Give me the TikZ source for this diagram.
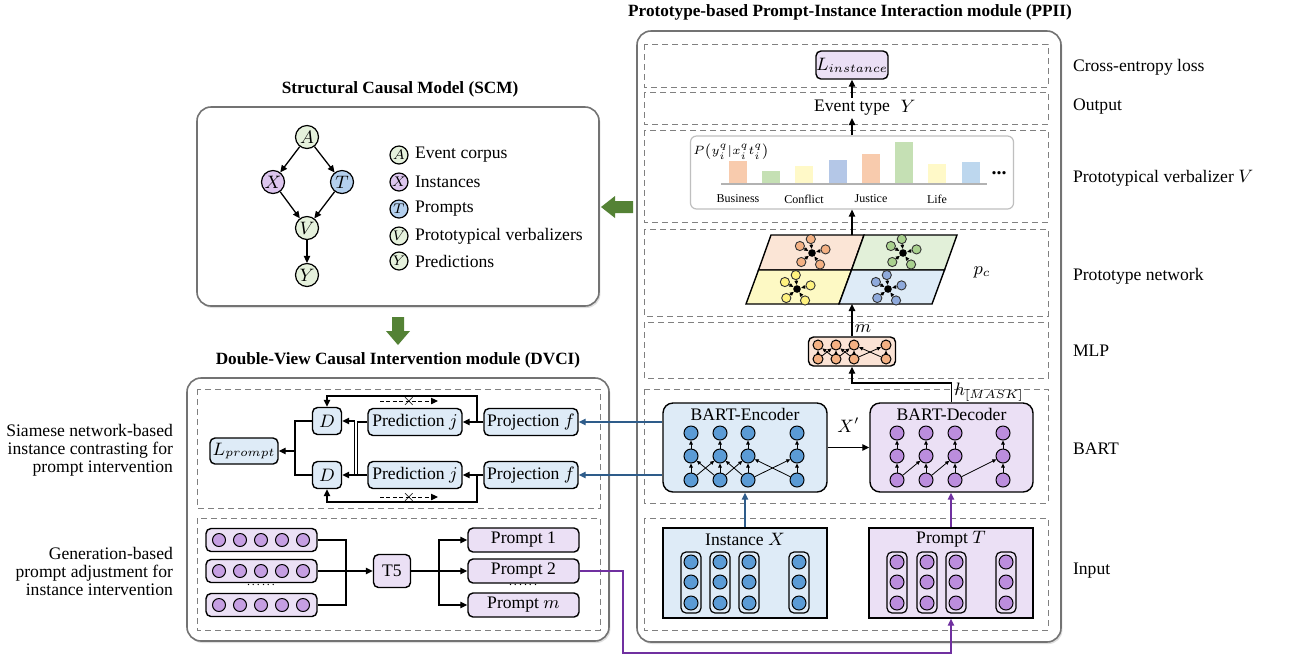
\documentclass[tikz,border=0pt]{standalone}
\usepackage{fontspec}
\setmainfont{Liberation Serif}
\usepackage{amsmath}
\usetikzlibrary{arrows.meta, shadows, calc}

\definecolor{lblue}{HTML}{DEEBF7}
\definecolor{lpurple}{HTML}{EBE0F5}
\definecolor{nblue}{HTML}{5B9BD5}
\definecolor{npurple}{HTML}{BB8DDD}
\definecolor{lorange}{HTML}{FBE3D5}
\definecolor{norange}{HTML}{F4B183}
\definecolor{qorange}{HTML}{FBE5D6}
\definecolor{qgreen}{HTML}{E2F0D9}
\definecolor{qyellow}{HTML}{FDF9C4}
\definecolor{sgreen}{HTML}{A9D18E}
\definecolor{syellow}{HTML}{FFF27F}
\definecolor{sblue}{HTML}{8FAADC}
\definecolor{dblue}{HTML}{2E5C8A}
\definecolor{dpurple}{HTML}{7030A0}
\definecolor{dgreen}{HTML}{548235}
\definecolor{xpurple}{HTML}{DCC5EE}
\definecolor{tblue}{HTML}{B4D0EE}
\definecolor{agreen}{HTML}{E5F1DC}
\definecolor{borange}{HTML}{F8CBAD}
\definecolor{bgreen}{HTML}{C5E0B4}
\definecolor{byellow}{HTML}{FFF9C8}
\definecolor{bblue}{HTML}{B4C7E7}
\definecolor{bsky}{HTML}{BDD7EE}

\begin{document}
\begin{tikzpicture}[x=0.5pt, y=-0.5pt, font=\fontsize{8.8}{9}\selectfont,
  titletext/.style={font=\fontsize{8.6}{9}\selectfont\bfseries},
  outerbox/.style={draw=gray!90!black, line width=0.8pt, rounded corners=7pt, fill=white,
    drop shadow={shadow xshift=0.7pt, shadow yshift=-1pt, opacity=0.25}},
  rowbox/.style={draw=gray, line width=0.5pt, dash pattern=on 3pt off 2pt},
  blk/.style={draw, line width=0.7pt, rounded corners=2.5pt, inner sep=0pt},
  arr/.style={line width=0.65pt, -{Triangle[length=3.5pt, width=3.2pt]}},
  tinyarr/.style={line width=0.4pt, -{Triangle[length=2pt, width=1.8pt]}},
  scmnode/.style={circle, draw, line width=0.6pt, minimum size=11.5pt, inner sep=0pt},
  legnode/.style={circle, draw, line width=0.6pt, minimum size=9pt, inner sep=0pt, font=\fontsize{7.5}{8}\selectfont},
  bnode/.style={circle, draw, line width=0.5pt, fill=nblue, minimum size=7pt, inner sep=0pt},
  pnode/.style={circle, draw, line width=0.5pt, fill=npurple, minimum size=7pt, inner sep=0pt},
  onode/.style={circle, draw, line width=0.5pt, fill=norange, minimum size=5pt, inner sep=0pt},
  colbox/.style={draw, line width=0.6pt, rounded corners=2.5pt, minimum width=10pt, minimum height=30.5pt, inner sep=0pt},
  hub/.style={circle, fill=black, minimum size=3.8pt, inner sep=0pt},
  sat/.style={circle, draw=black!80, line width=0.45pt, minimum size=4.6pt, inner sep=0pt},
  bline/.style={draw=dblue, line width=0.9pt},
  pline/.style={draw=dpurple, line width=0.9pt},
  sidelabel/.style={anchor=west},
  seqdots/.style={font=\fontsize{6}{6}\selectfont, inner sep=0pt}]

\fill[white] (0,0) rectangle (1290,661);
\useasboundingbox (0,0) rectangle (1290,661);

\node[titletext] (tppii) at (850,12) {Prototype-based Prompt-Instance Interaction module (PPII)};
\node[titletext] (tscm) at (400,89) {Structural Causal Model (SCM)};
\node[titletext] (tdvci) at (398,360) {Double-View Causal Intervention module (DVCI)};

\path[outerbox] (197,107) rectangle (599,306);
\path[outerbox] (187,378) rectangle (609,641);
\path[outerbox] (637,31) rectangle (1061,642);

\draw[rowbox] (644,44) rectangle (1048,87);
\draw[rowbox] (644,92) rectangle (1048,124);
\draw[rowbox] (644,130) rectangle (1048,222);
\draw[rowbox] (644,229) rectangle (1048,316);
\draw[rowbox] (644,322) rectangle (1048,378);
\draw[rowbox] (644,389) rectangle (1048,503);
\draw[rowbox] (644,518) rectangle (1048,630);
\draw[rowbox] (197,389) rectangle (600,508);
\draw[rowbox] (197,518) rectangle (600,630);

\fill[dgreen] (601,207) -- (615,196) -- (615,201) -- (633,201) -- (633,213) -- (615,213) -- (615,218) -- cycle;
\fill[dgreen] (392,317) -- (404,317) -- (404,331) -- (410,331) -- (398,345) -- (386,331) -- (392,331) -- cycle;

\node[scmnode, fill=agreen] (A) at (307,137) {$A$};
\node[scmnode, fill=xpurple] (X) at (273,182) {$X$};
\node[scmnode, fill=tblue] (T) at (342,182) {$T$};
\node[scmnode, fill=agreen] (V) at (307,228) {$V$};
\node[scmnode, fill=agreen] (Y) at (307,275) {$Y$};
\draw[arr] (A) -- (X);
\draw[arr] (A) -- (T);
\draw[arr] (X) -- (V);
\draw[arr] (T) -- (V);
\draw[arr] (V) -- (Y);
\foreach \n/\c/\txt/\y in {A/agreen/Event corpus/155, X/xpurple/Instances/182, T/tblue/Prompts/209, V/agreen/Prototypical verbalizers/236, Y/agreen/Predictions/261} {
  \node[legnode, fill=\c] (l\n) at (399,\y) {$\n$};
  \node[anchor=west] (lt\n) at (408,\y) {\txt};
}

\node[anchor=east, align=right] (lsia) at (180,450) {Siamese network-based\\instance contrasting for\\prompt intervention};
\node[anchor=east, align=right] (lgen) at (180,571) {Generation-based\\prompt adjustment for\\instance intervention};

\node[blk, fill=lblue, minimum width=34pt, minimum height=13pt] (lp) at (244,451) {$L_{prompt}$};
\node[blk, fill=lblue, minimum width=14.5pt, minimum height=13.5pt] (dt) at (327,421) {$D$};
\node[blk, fill=lblue, minimum width=14.5pt, minimum height=13.5pt] (db) at (327,475) {$D$};
\node[blk, fill=lblue, minimum width=47pt, minimum height=13.5pt] (predt) at (415,422) {Prediction $j$};
\node[blk, fill=lblue, minimum width=47pt, minimum height=13.5pt] (predb) at (415,475) {Prediction $j$};
\node[blk, fill=lblue, minimum width=47pt, minimum height=13.5pt] (projt) at (531,422) {Projection $f$};
\node[blk, fill=lblue, minimum width=47pt, minimum height=13.5pt] (projb) at (531,475) {Projection $f$};
\draw[arr] (projt.west) -- (predt.east);
\draw[arr] (projb.west) -- (predb.east);
\coordinate (jt) at (477,422);
\coordinate (jb) at (477,475);
\draw[arr] (jt) -- ++(0,-26) -| (dt.north);
\draw[arr] (jb) -- ++(0,27) -| (db.south);
\coordinate (xa1) at (380,401);
\coordinate (xb1) at (438,401);
\coordinate (xa2) at (380,497);
\coordinate (xb2) at (438,497);
\draw[arr, line width=0.5pt, dash pattern=on 2pt off 1.2pt] (xa1) -- node[inner sep=0pt, font=\fontsize{8}{8}\selectfont] {$\times$} (xb1);
\draw[arr, line width=0.5pt, dash pattern=on 2pt off 1.2pt] (xa2) -- node[inner sep=0pt, font=\fontsize{8}{8}\selectfont] {$\times$} (xb2);
\draw[arr] (predt.west) -- ++(-10,0) |- (db.east);
\draw[arr] (predb.west) -- ++(-13,0) |- (dt.east);
\coordinate (jl) at (295,451);
\draw[line width=0.65pt] (dt.west) -| (jl);
\draw[line width=0.65pt] (db.west) -| (jl);
\draw[arr] (jl) -- (lp.east);

\foreach \r/\y in {1/540,2/571,3/605} {
  \node[blk, fill=lpurple, minimum width=55.5pt, minimum height=11.5pt] (s\r) at (261.5,\y) {};
  \foreach \i/\x in {1/219,2/240,3/261,4/282,5/303}
    \node[circle, draw, line width=0.5pt, fill=npurple!85, minimum size=6.5pt, inner sep=0pt] (s\r\i) at (\x,\y) {};
}
\node[seqdots] (sdots) at (261,585) {.\,.\,.\,.\,.\,.};
\node[blk, fill=lpurple, minimum width=18.5pt, minimum height=16.5pt] (t5) at (392,571) {T5};
\node[blk, fill=lpurple, minimum width=55.5pt, minimum height=12pt] (p1) at (523.5,540) {Prompt 1};
\node[blk, fill=lpurple, minimum width=55.5pt, minimum height=12pt] (p2) at (523.5,571) {Prompt 2};
\node[blk, fill=lpurple, minimum width=55.5pt, minimum height=12pt] (pm) at (523.5,605) {Prompt $m$};
\node[seqdots] (pdots) at (523,585) {.\,.\,.\,.\,.\,.};
\coordinate (jm) at (346,571);
\coordinate (jp) at (439,571);
\draw[line width=0.65pt] (s1.east) -| (jm);
\draw[line width=0.65pt] (s3.east) -| (jm);
\draw[arr] (s2.east) -- (t5.west);
\draw[line width=0.65pt] (t5.east) -- (jp);
\draw[arr] (jp) |- (p1.west);
\draw[arr] (jp) -- (p2.west);
\draw[arr] (jp) |- (pm.west);

\node[blk, fill=lpurple, minimum width=34pt, minimum height=14pt] (linst) at (852,65) {$L_{instance}$};
\node[inner sep=1pt] (evt) at (852,108) {Event type};
\node (evY) at (908,106) {$Y$};
\draw[arr] (evt.north) -- (linst.south);

\node[draw=gray!50, line width=0.6pt, rounded corners=3pt, minimum width=161.5pt, minimum height=36.5pt, inner sep=0pt] (verb) at (852,172.5) {};
\draw[arr] (verb.north) -- (evt.south);
\node[anchor=west, inner sep=0pt, font=\fontsize{6.5}{7}\selectfont] (ptext) at (693,152) {$P\big(y_i^q|x_i^q t_i^q\big)$};
\foreach \x/\h/\c in {729/161/borange, 762/171/bgreen, 795/166/byellow, 829/160/bblue, 862/154/borange, 895/142/bgreen, 928/164/byellow, 962/162/bsky}
  \fill[\c] (\x,\h) rectangle ++(18,184-\h);
\draw[gray!60, line width=0.6pt] (721,184) -- (987,184);
\node[font=\bfseries] (vdots) at (999,173) {...};
\foreach \x/\txt in {738/Business, 804/Conflict, 871/Justice, 937/Life}
  \node[font=\fontsize{6}{6}\selectfont] (cat\txt) at (\x,199) {\txt};

\coordinate (q1) at (771,235);
\coordinate (q2) at (864,235);
\coordinate (q3) at (957,235);
\coordinate (q4) at (758.5,270);
\coordinate (q5) at (851.5,270);
\coordinate (q6) at (944.5,270);
\coordinate (q7) at (746,304);
\coordinate (q8) at (839,304);
\coordinate (q9) at (932,304);
\filldraw[fill=qorange, line width=0.7pt] (q1) -- (q2) -- (q5) -- (q4) -- cycle;
\filldraw[fill=qgreen, line width=0.7pt] (q2) -- (q3) -- (q6) -- (q5) -- cycle;
\filldraw[fill=qyellow, line width=0.7pt] (q4) -- (q5) -- (q8) -- (q7) -- cycle;
\filldraw[fill=lblue, line width=0.7pt] (q5) -- (q6) -- (q9) -- (q8) -- cycle;
\foreach \cx/\cy/\c/\k in {812/253/norange/1, 903/253/sgreen/2, 797/289/syellow/3, 888/289/sblue/4} {
  \node[hub] (h\k) at (\cx,\cy) {};
  \foreach \s/\a in {1/-150, 2/-95, 3/-15, 4/55, 5/140} {
    \node[sat, fill=\c] (h\k s\s) at ($(h\k)+(\a:14)$) {};
    \draw[tinyarr] (h\k s\s) -- (h\k);
  }
}
\node (pc) at (982,272) {$p_c$};
\coordinate (protop) at (852,235);
\coordinate (probot) at (852,304);
\draw[arr] (protop) -- (verb.south);

\node[blk, fill=lorange, minimum width=43.5pt, minimum height=14.5pt] (mlp) at (852,351.5) {};
\foreach \i/\x in {1/818,2/836,3/854,4/886} {
  \node[onode] (m\i1) at (\x,345) {};
  \node[onode] (m\i2) at (\x,359) {};
  \draw[tinyarr] (m\i2) -- (m\i1);
}
\foreach \i/\k in {1/2,2/3,3/4} {
  \draw[tinyarr] (m\i2) -- (m\k1);
  \draw[tinyarr] (m\k2) -- (m\i1);
}
\draw[arr] (mlp.north) -- (probot);
\node (mlab) at (863,329) {$m$};

\node[blk, rounded corners=5pt, fill=lblue, minimum width=82pt, minimum height=44.5pt] (enc) at (745,447.5) {};
\node (enct) at (745,414) {BART-Encoder};
\node[blk, rounded corners=5pt, fill=lpurple, minimum width=81.5pt, minimum height=44.5pt] (dec) at (951.5,447.5) {};
\node (dect) at (951.5,414) {BART-Decoder};
\foreach \i/\x in {1/691,2/720,3/748,4/797}
  \foreach \j/\y in {1/433,2/456,3/480}
    \node[bnode] (e\i\j) at (\x,\y) {};
\foreach \i/\x in {1/897,2/926,3/955,4/1003}
  \foreach \j/\y in {1/433,2/456,3/480}
    \node[pnode] (d\i\j) at (\x,\y) {};
\foreach \i in {1,...,4} {
  \draw[tinyarr] (e\i3) -- (e\i2);
  \draw[tinyarr] (e\i2) -- (e\i1);
  \draw[tinyarr] (d\i3) -- (d\i2);
  \draw[tinyarr] (d\i2) -- (d\i1);
}
\foreach \i/\k in {1/2,2/3,3/4} {
  \draw[tinyarr] (e\i3) -- (e\k2);
  \draw[tinyarr] (e\k3) -- (e\i2);
  \draw[tinyarr] (d\i3) -- (d\k2);
}
\draw[arr] (enc.east) -- node[above=4pt] {$X'$} (dec.west);
\coordinate (hk) at (900,383);
\draw[arr] (dec.north) |- (hk) -| (mlp.south);
\node[anchor=west, inner sep=1pt] (hlab) at (952,392) {$h_{[MASK]}$};

\node[draw, line width=0.7pt, fill=lblue, minimum width=82pt, minimum height=45pt, inner sep=0pt] (inst) at (745,573) {};
\node (instt) at (745,539) {Instance $X$};
\node[draw, line width=0.7pt, fill=lpurple, minimum width=82pt, minimum height=45pt, inner sep=0pt] (ptbox) at (951,573) {};
\node (ptt) at (951,539) {Prompt $T$};
\foreach \i/\x in {1/691,2/720,3/749,4/799} {
  \node[colbox] (ic\i) at (\x,582.5) {};
  \foreach \j/\y in {1/562,2/582,3/603}
    \node[bnode] (i\i\j) at (\x,\y) {};
}
\foreach \i/\x in {1/897,2/927,3/956,4/1006} {
  \node[colbox] (tc\i) at (\x,582.5) {};
  \foreach \j/\y in {1/562,2/582,3/603}
    \node[pnode] (t\i\j) at (\x,\y) {};
}
\draw[bline, arr] (inst.north) -- (inst.north |- enc.south);
\draw[pline, arr] (ptbox.north) -- (ptbox.north |- dec.south);
\draw[bline, arr] (enc.west |- projt.east) -- (projt.east);
\draw[bline, arr] (enc.west |- projb.east) -- (projb.east);
\coordinate (pk) at (623,653);
\draw[pline, arr] (p2.east) -| (pk) -| (ptbox.south);

\node[sidelabel] (rce) at (1066,67) {Cross-entropy loss};
\node[sidelabel] (rout) at (1066,107) {Output};
\node[sidelabel] (rverb) at (1066,178) {Prototypical verbalizer $V$};
\node[sidelabel] (rproto) at (1066,276) {Prototype network};
\node[sidelabel] (rmlp) at (1066,351) {MLP};
\node[sidelabel] (rbart) at (1066,449) {BART};
\node[sidelabel] (rin) at (1066,571) {Input};
\end{tikzpicture}
\end{document}
